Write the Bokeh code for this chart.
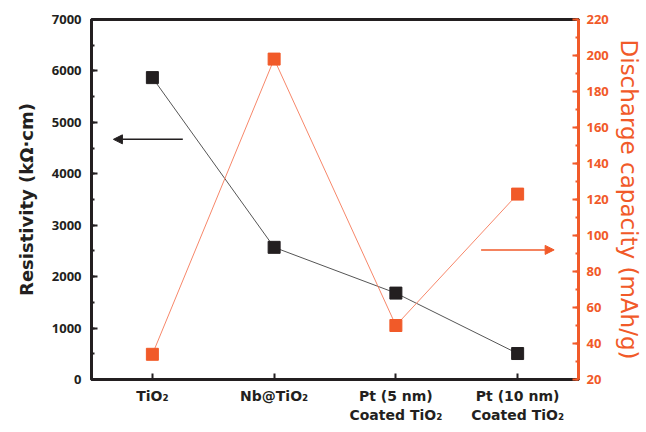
from bokeh.plotting import figure
from bokeh.models import (Range1d, FactorRange, LinearAxis, SingleIntervalTicker,
                          Arrow, NormalHead, ColumnDataSource)
from bokeh.embed import file_html
from bokeh.resources import INLINE

categories = ["TiO\u2082", "Nb@TiO\u2082", "Pt (5 nm)\nCoated TiO\u2082", "Pt (10 nm)\nCoated TiO\u2082"]
resistivity = [5870, 2570, 1680, 505]
capacity = [34, 198, 50, 123]

BLACK = "#231f20"
ORANGE = "#f15a29"
FONT = "Open Sans"
WIDE = "DejaVu Sans"

src = ColumnDataSource(dict(cat=categories, res=resistivity, cap=capacity))

p = figure(width=646, height=432, output_backend="svg", toolbar_location=None,
           x_range=FactorRange(*categories, range_padding=0), y_range=Range1d(0, 7000),
           min_border_left=91, min_border_right=68, min_border_top=19, min_border_bottom=53)
p.x_range.factor_padding = 0
p.extra_y_ranges = {"cap": Range1d(20, 220)}
p.grid.visible = False
p.background_fill_color = "white"
p.border_fill_color = "white"
p.outline_line_color = BLACK
p.outline_line_width = 3

# lines
p.line("cat", "res", source=src, line_color="#555555", line_width=1)
p.line("cat", "cap", source=src, y_range_name="cap", line_color="#f7876a", line_width=1)
# markers
p.scatter("cat", "res", source=src, marker="square", size=12,
          fill_color=BLACK, line_color=BLACK)
p.scatter("cat", "cap", source=src, y_range_name="cap", marker="square", size=12,
          fill_color=ORANGE, line_color=ORANGE)

# left axis
ya = p.yaxis[0]
ya.ticker = SingleIntervalTicker(interval=1000, num_minor_ticks=2)
ya.axis_label = "Resistivity (k\u03a9\u00b7cm)"
ya.axis_label_text_font = WIDE
ya.axis_label_text_font_style = "bold"
ya.axis_label_text_font_size = "18px"
ya.axis_label_text_color = BLACK
ya.axis_label_standoff = 12
ya.major_label_text_font = FONT
ya.major_label_text_font_style = "bold"
ya.major_label_text_font_size = "13px"
ya.major_label_text_color = BLACK
ya.major_label_standoff = 10
ya.axis_line_color = BLACK
ya.axis_line_width = 3
ya.major_tick_in = 6
ya.major_tick_out = 0
ya.minor_tick_in = 3
ya.minor_tick_out = 0
ya.major_tick_line_width = 2
ya.minor_tick_line_width = 2
ya.major_tick_line_color = BLACK
ya.minor_tick_line_color = BLACK

# right axis
ra = LinearAxis(y_range_name="cap", ticker=SingleIntervalTicker(interval=20, num_minor_ticks=2))
ra.axis_label = "Discharge capacity (mAh/g)"
ra.axis_label_text_font = WIDE
ra.axis_label_text_font_style = "normal"
ra.axis_label_text_font_size = "23px"
ra.axis_label_text_color = ORANGE
ra.axis_label_standoff = 4
ra.major_label_text_font = FONT
ra.major_label_text_font_style = "bold"
ra.major_label_text_font_size = "13px"
ra.major_label_text_color = ORANGE
ra.major_label_standoff = 8
ra.axis_line_color = ORANGE
ra.axis_line_width = 3
ra.major_tick_in = 6
ra.major_tick_out = 0
ra.minor_tick_in = 3
ra.minor_tick_out = 0
ra.major_tick_line_width = 2
ra.minor_tick_line_width = 2
ra.major_tick_line_color = ORANGE
ra.minor_tick_line_color = ORANGE
p.add_layout(ra, "right")

# bottom axis
xa = p.xaxis[0]
xa.major_label_text_font = WIDE
xa.major_label_text_font_style = "bold"
xa.major_label_text_font_size = "14px"
xa.major_label_text_color = BLACK
xa.axis_line_color = BLACK
xa.axis_line_width = 3
xa.major_tick_in = 6
xa.major_tick_out = 0
xa.major_tick_line_width = 2
xa.major_tick_line_color = BLACK
xa.major_label_standoff = 8

# arrows
p.add_layout(Arrow(end=NormalHead(size=9, fill_color=BLACK, line_color=BLACK),
                   x_start=0.75, y_start=4670, x_end=0.18, y_end=4670,
                   line_color=BLACK, line_width=1.5))
p.add_layout(Arrow(end=NormalHead(size=9, fill_color=ORANGE, line_color=ORANGE),
                   x_start=3.2, y_start=92, x_end=3.8, y_end=92, y_range_name="cap",
                   line_color=ORANGE, line_width=1.5))

open("out.html", "w").write(file_html(p, INLINE))
